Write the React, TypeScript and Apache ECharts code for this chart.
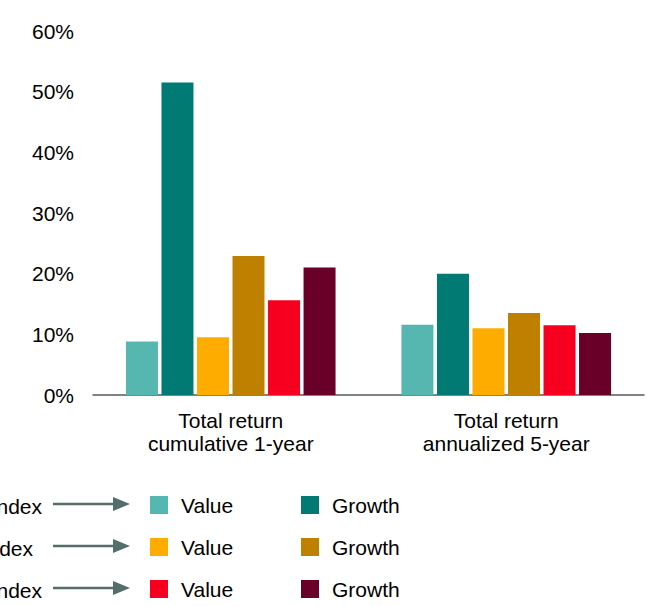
import React, { useEffect, useRef } from "react";
import * as echarts from "echarts";

const categories = ["Total return\ncumulative 1-year", "Total return\nannualized 5-year"];
const seriesNames = [
  "Russell 1000 Value",
  "Russell 1000 Growth",
  "Russell Midcap Value",
  "Russell Midcap Growth",
  "Russell 2000 Value",
  "Russell 2000 Growth",
];
const seriesLabels = ["Value", "Growth", "Value", "Growth", "Value", "Growth"];
const seriesColors = ["#56B7B0", "#007A73", "#FFAC00", "#BF8000", "#F7001F", "#680028"];
const largeValue = [8.8, 11.6];
const largeGrowth = [51.5, 20.0];
const midValue = [9.5, 11.0];
const midGrowth = [22.9, 13.5];
const smallValue = [15.6, 11.5];
const smallGrowth = [21.0, 10.2];
const seriesData = [largeValue, largeGrowth, midValue, midGrowth, smallValue, smallGrowth];
const indexLabels = ["Russell 1000 Index", "Russell Midcap Index", "Russell 2000 Index"];
const yTicks = { min: 0, max: 60, interval: 10 };

const FONT = "Liberation Sans, Arial, sans-serif";

export default function App() {
  const ref = useRef<HTMLDivElement>(null);
  useEffect(() => {
    if (!ref.current) return;
    const chart = echarts.init(ref.current, undefined, { renderer: "svg" });
    const rowTops = [496, 538, 580];
    const legends: any[] = [];
    seriesNames.forEach((name, i) => {
      const row = Math.floor(i / 2);
      const col = i % 2;
      legends.push({
        data: [name],
        left: col === 0 ? 150 : 301,
        top: rowTops[row] - 1.5,
        padding: 0,
        itemWidth: 18,
        itemHeight: 18,
        icon: "rect",
        selectedMode: false,
        formatter: () => seriesLabels[i],
        textStyle: { fontFamily: FONT, fontSize: 21, color: "#000", padding: [0, 0, 0, 8] },
      });
    });
    const graphics: any[] = [];
    const textEnds = [42, 33, 42];
    rowTops.forEach((t, r) => {
      const cy = t + 8;
      graphics.push({
        type: "text",
        right: undefined,
        x: textEnds[r],
        y: cy + 2,
        style: {
          text: indexLabels[r],
          fontFamily: FONT,
          fontSize: 21,
          fill: "#000",
          align: "right",
          verticalAlign: "middle",
        },
      });
      graphics.push({
        type: "line",
        shape: { x1: 53, y1: cy, x2: 115, y2: cy },
        style: { stroke: "#546E6C", lineWidth: 2.5 },
      });
      graphics.push({
        type: "polygon",
        shape: { points: [[113, cy - 7], [130, cy], [113, cy + 7]] },
        style: { fill: "#546E6C" },
      });
    });
    chart.setOption({
      animation: false,
      grid: { left: 93, right: 3, top: 31, bottom: 211, containLabel: false },
      legend: legends,
      graphic: graphics,
      xAxis: {
        type: "category",
        data: categories,
        axisLine: { lineStyle: { color: "#595959", width: 1.5 } },
        axisTick: { show: false },
        axisLabel: { fontFamily: FONT, fontSize: 21, color: "#000", lineHeight: 23, margin: 14 },
      },
      yAxis: {
        type: "value",
        min: yTicks.min,
        max: yTicks.max,
        interval: yTicks.interval,
        axisLine: { show: false },
        axisTick: { show: false },
        splitLine: { show: false },
        axisLabel: { fontFamily: FONT, fontSize: 21, color: "#000", margin: 19, formatter: "{value}%" },
      },
      series: seriesNames.map((name, i) => ({
        name,
        type: "bar",
        data: seriesData[i],
        barWidth: 32,
        barGap: "11%",
        itemStyle: { color: seriesColors[i] },
      })),
    });
    return () => chart.dispose();
  }, []);
  return <div ref={ref} style={{ position: "absolute", left: 0, top: 0, width: 647, height: 606 }} />;
}
